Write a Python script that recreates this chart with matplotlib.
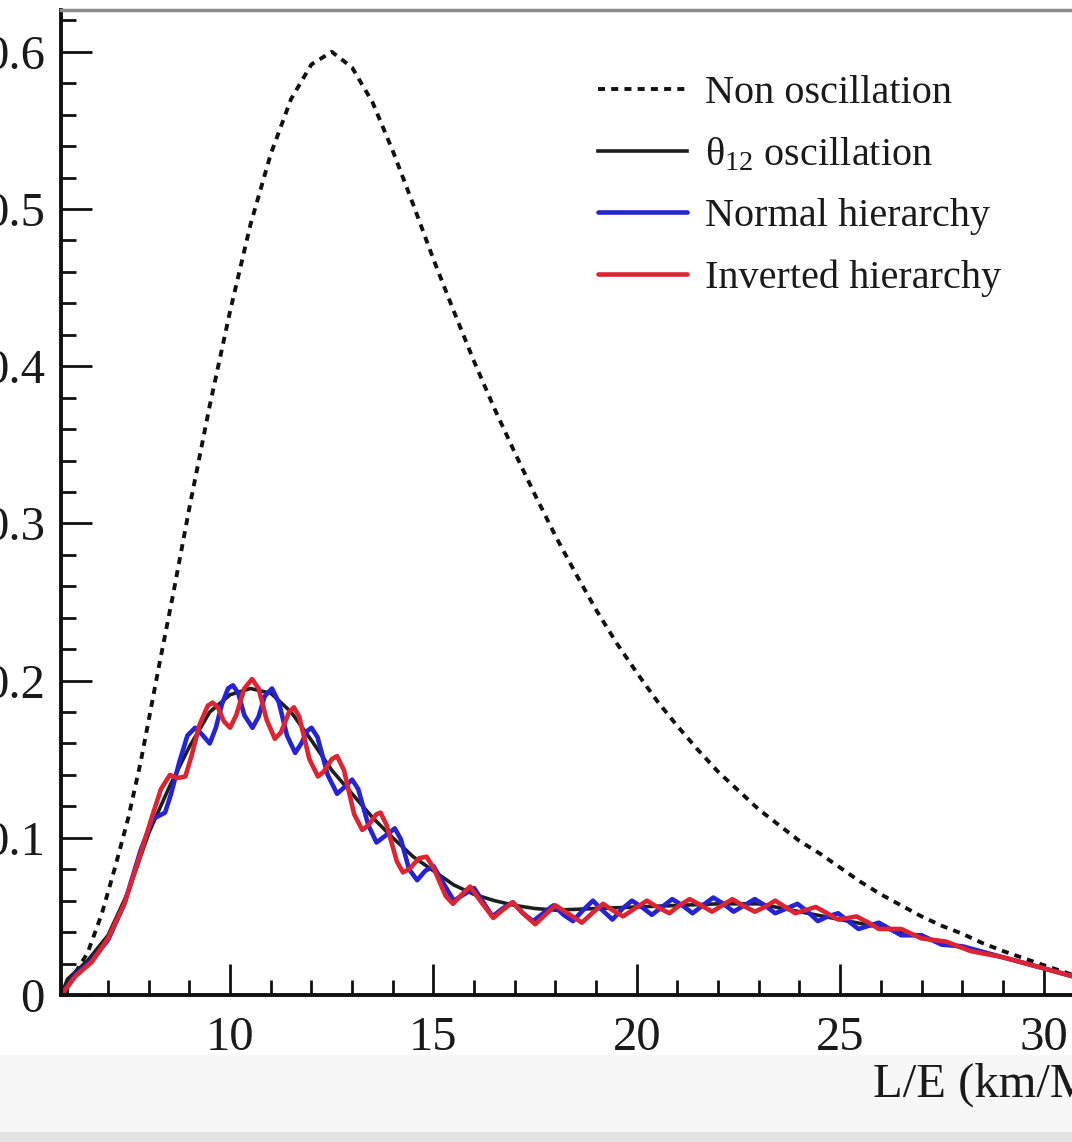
import matplotlib
matplotlib.use("Agg")
import matplotlib.pyplot as plt
from matplotlib.patches import Rectangle
from matplotlib.ticker import MultipleLocator

plt.rcParams['font.family'] = ['Liberation Serif', 'DejaVu Serif']
plt.rcParams['mathtext.fontset'] = 'custom'
plt.rcParams['mathtext.rm'] = 'Liberation Serif'
plt.rcParams['mathtext.it'] = 'Liberation Serif:italic'

# Non oscillation (dashed)
x_non = [5.85, 6.0, 6.5, 6.85, 7.17, 7.5, 7.8, 8.0, 8.25, 8.6, 9.0, 9.5, 10.0, 10.5,
         11.0, 11.5, 12.0, 12.5, 13.0, 13.5, 14.0, 14.5, 15.0, 15.5, 16.0, 16.5, 17.0,
         17.5, 18.0, 18.5, 19.0, 19.5, 20.0, 20.5, 21.0, 21.5, 22.0, 22.5, 23.0, 23.5,
         24.0, 24.5, 25.0, 25.5, 26.0, 26.5, 27.0, 27.5, 28.0, 28.5, 29.0, 29.5, 30.0, 30.7]
y_non = [0.0, 0.006, 0.027, 0.052, 0.081, 0.113, 0.148, 0.175, 0.209, 0.255, 0.31, 0.375,
         0.435, 0.49, 0.535, 0.57, 0.592, 0.600, 0.59, 0.568, 0.537, 0.503, 0.468, 0.435,
         0.403, 0.373, 0.345, 0.318, 0.292, 0.268, 0.245, 0.224, 0.205, 0.187, 0.171, 0.156,
         0.142, 0.13, 0.118, 0.108, 0.098, 0.09, 0.081, 0.072, 0.064, 0.057, 0.05, 0.044,
         0.039, 0.033, 0.028, 0.0235, 0.019, 0.013]

# theta12 oscillation (black)
x_t12 = [5.85, 6.0, 6.5, 7.0, 7.5, 8.0, 8.5, 9.0, 9.5, 10.0, 10.5, 11.0, 11.5, 12.0, 12.5,
         13.0, 13.5, 14.0, 14.5, 15.0, 15.5, 16.0, 16.5, 17.0, 17.5, 18.0, 19.0, 20.0, 21.0,
         22.0, 23.0, 24.0, 25.0, 26.0, 27.0, 28.0, 29.0, 30.0, 30.7]
y_t12 = [0.0, 0.01, 0.022, 0.038, 0.066, 0.103, 0.132, 0.158, 0.18, 0.191, 0.195, 0.192,
         0.18, 0.162, 0.143, 0.128, 0.113, 0.1, 0.088, 0.079, 0.07, 0.064, 0.06, 0.057,
         0.055, 0.054, 0.055, 0.056, 0.057, 0.058, 0.058, 0.053, 0.048, 0.043, 0.037, 0.03,
         0.024, 0.017, 0.012]

# Normal hierarchy (blue)
x_nh = [5.85, 6.2, 6.6, 7.0, 7.4, 7.8, 8.1, 8.4, 8.55, 8.75, 8.95, 9.14, 9.3, 9.5, 9.65,
        9.8, 9.95, 10.07, 10.2, 10.35, 10.55, 10.7, 10.85, 11.03, 11.2, 11.4, 11.6, 11.75,
        11.9, 12.0, 12.15, 12.4, 12.63, 12.8, 13.0, 13.15, 13.4, 13.6, 13.8, 14.05, 14.2,
        14.4, 14.6, 14.8, 15.0, 15.2, 15.5, 15.75, 16.0, 16.2, 16.45, 16.7, 16.95, 17.2,
        17.45, 17.7, 17.95, 18.2, 18.43, 18.68, 18.92, 19.15, 19.4, 19.65, 19.88, 20.12,
        20.37, 20.62, 20.87, 21.12, 21.37, 21.62, 21.88, 22.13, 22.38, 22.64, 22.9, 23.15,
        23.4, 23.68, 23.95, 24.2, 24.45, 24.7, 24.95, 25.2, 25.45, 25.7, 25.95, 26.5, 27.0,
        27.5, 28.0, 29.0, 30.0, 30.7]
y_nh = [0.0, 0.013, 0.022, 0.035, 0.058, 0.092, 0.112, 0.116, 0.128, 0.148, 0.165, 0.170,
        0.166, 0.160, 0.170, 0.185, 0.195, 0.197, 0.192, 0.178, 0.170, 0.177, 0.190, 0.195,
        0.186, 0.165, 0.154, 0.160, 0.168, 0.170, 0.164, 0.140, 0.128, 0.132, 0.137, 0.131,
        0.108, 0.097, 0.101, 0.106, 0.099, 0.080, 0.073, 0.079, 0.082, 0.073, 0.060, 0.064,
        0.068, 0.060, 0.050, 0.055, 0.059, 0.052, 0.047, 0.052, 0.057, 0.051, 0.047, 0.054,
        0.060, 0.054, 0.048, 0.055, 0.060, 0.056, 0.051, 0.056, 0.061, 0.057, 0.052, 0.057,
        0.062, 0.058, 0.053, 0.057, 0.061, 0.057, 0.052, 0.055, 0.058, 0.053, 0.047, 0.050,
        0.052, 0.047, 0.042, 0.044, 0.046, 0.038, 0.038, 0.032, 0.031, 0.024, 0.017, 0.012]

# Inverted hierarchy (red)
x_ih = [5.85, 6.2, 6.6, 7.0, 7.4, 7.8, 8.1, 8.3, 8.52, 8.7, 8.9, 9.05, 9.25, 9.45, 9.57,
        9.7, 9.85, 10.0, 10.15, 10.35, 10.54, 10.7, 10.9, 11.1, 11.25, 11.45, 11.57, 11.7,
        11.95, 12.16, 12.3, 12.5, 12.63, 12.8, 13.05, 13.25, 13.4, 13.6, 13.7, 13.85, 14.1,
        14.25, 14.4, 14.65, 14.83, 15.0, 15.3, 15.48, 15.7, 15.9, 16.15, 16.47, 16.7, 16.95,
        17.2, 17.5, 17.75, 18.0, 18.3, 18.65, 18.9, 19.17, 19.4, 19.66, 19.95, 20.25, 20.5,
        20.8, 21.05, 21.3, 21.58, 21.85, 22.1, 22.35, 22.6, 22.9, 23.15, 23.4, 23.65, 23.9,
        24.15, 24.4, 24.68, 24.95, 25.2, 25.4, 25.7, 25.95, 26.5, 27.0, 27.6, 28.2, 29.0,
        30.0, 30.7]
y_ih = [0.0, 0.012, 0.021, 0.036, 0.058, 0.090, 0.115, 0.131, 0.140, 0.138, 0.139, 0.152,
        0.172, 0.184, 0.186, 0.183, 0.174, 0.170, 0.178, 0.195, 0.201, 0.195, 0.175, 0.163,
        0.167, 0.180, 0.183, 0.177, 0.150, 0.139, 0.142, 0.150, 0.152, 0.143, 0.115, 0.105,
        0.108, 0.115, 0.116, 0.108, 0.085, 0.078, 0.080, 0.087, 0.088, 0.081, 0.063, 0.058,
        0.064, 0.069, 0.060, 0.049, 0.054, 0.059, 0.052, 0.045, 0.051, 0.057, 0.052, 0.046,
        0.052, 0.058, 0.054, 0.050, 0.055, 0.060, 0.056, 0.052, 0.057, 0.061, 0.057, 0.053,
        0.057, 0.061, 0.057, 0.053, 0.056, 0.060, 0.056, 0.052, 0.054, 0.056, 0.052, 0.048,
        0.049, 0.050, 0.046, 0.042, 0.042, 0.036, 0.034, 0.028, 0.024, 0.017, 0.012]

labels = ['Non oscillation', 'θ$_{12}$ oscillation', 'Normal hierarchy', 'Inverted hierarchy']

W, H = 1072, 1142
fig = plt.figure(figsize=(W / 100, H / 100), dpi=100)

# screenshot background bands below the plot
fig.patches.append(Rectangle((0, 0), 1, (H - 1055) / H, transform=fig.transFigure,
                             color='#f7f7f7', zorder=-2))
fig.patches.append(Rectangle((0, 0), 1, (H - 1132) / H, transform=fig.transFigure,
                             color='#e3e3e3', zorder=-1))

ax = fig.add_axes([61.3 / W, 147 / H, (W - 61.3) / W, 985 / H])

ax.plot(x_non, y_non, color='#111111', lw=2.8, ls=(0, (1.8, 1.6)), label=labels[0])
ax.plot(x_t12, y_t12, color='#1e1e1e', lw=2.6, label=labels[1])
ax.plot(x_nh, y_nh, color='#2424d6', lw=3.3, label=labels[2],
        solid_joinstyle='round', solid_capstyle='round')
ax.plot(x_ih, y_ih, color='#dd2430', lw=3.3, label=labels[3],
        solid_joinstyle='round', solid_capstyle='round')

ax.set_xlim(5.85, 30.7)
ax.set_ylim(0, 0.6266)

ax.xaxis.set_major_locator(MultipleLocator(5))
ax.xaxis.set_minor_locator(MultipleLocator(1))
ax.yaxis.set_minor_locator(MultipleLocator(0.02))
ax.set_yticks([0, 0.1, 0.2, 0.3, 0.4, 0.5, 0.6])
ax.set_yticklabels(['0', '0.1', '0.2', '0.3', '0.4', '0.5', '0.6'])

ax.tick_params(which='both', direction='in', top=False, right=False, width=2.0,
               labelsize=35, color='#111111', labelcolor='#1a1a1a')
ax.tick_params(which='major', length=22)
ax.tick_params(which='minor', length=11)
ax.tick_params(axis='x', pad=15)
ax.tick_params(axis='y', pad=12)

for s in ['left', 'bottom']:
    ax.spines[s].set_linewidth(2.8)
    ax.spines[s].set_color('#111111')
ax.spines['right'].set_visible(False)
ax.spines['top'].set_color('#8c8c8c')
ax.spines['top'].set_linewidth(2.5)

ax.set_xlabel('L/E (km/MeV)', fontsize=35, ha='left', color='#1a1a1a')
ax.xaxis.set_label_coords((873 - 61.3) / (W - 61.3), -90 / 985)
ax.xaxis.label.set_va('center')

leg = ax.legend(loc='upper left', bbox_to_anchor=(598 / W, (H - 75) / H),
                bbox_transform=fig.transFigure, frameon=False, fontsize=29,
                handlelength=2.2, handletextpad=0.45, labelspacing=0.6,
                borderpad=0, borderaxespad=0)
for t in leg.get_texts():
    t.set_color('#1a1a1a')

fig.savefig('out.png', dpi=100)
